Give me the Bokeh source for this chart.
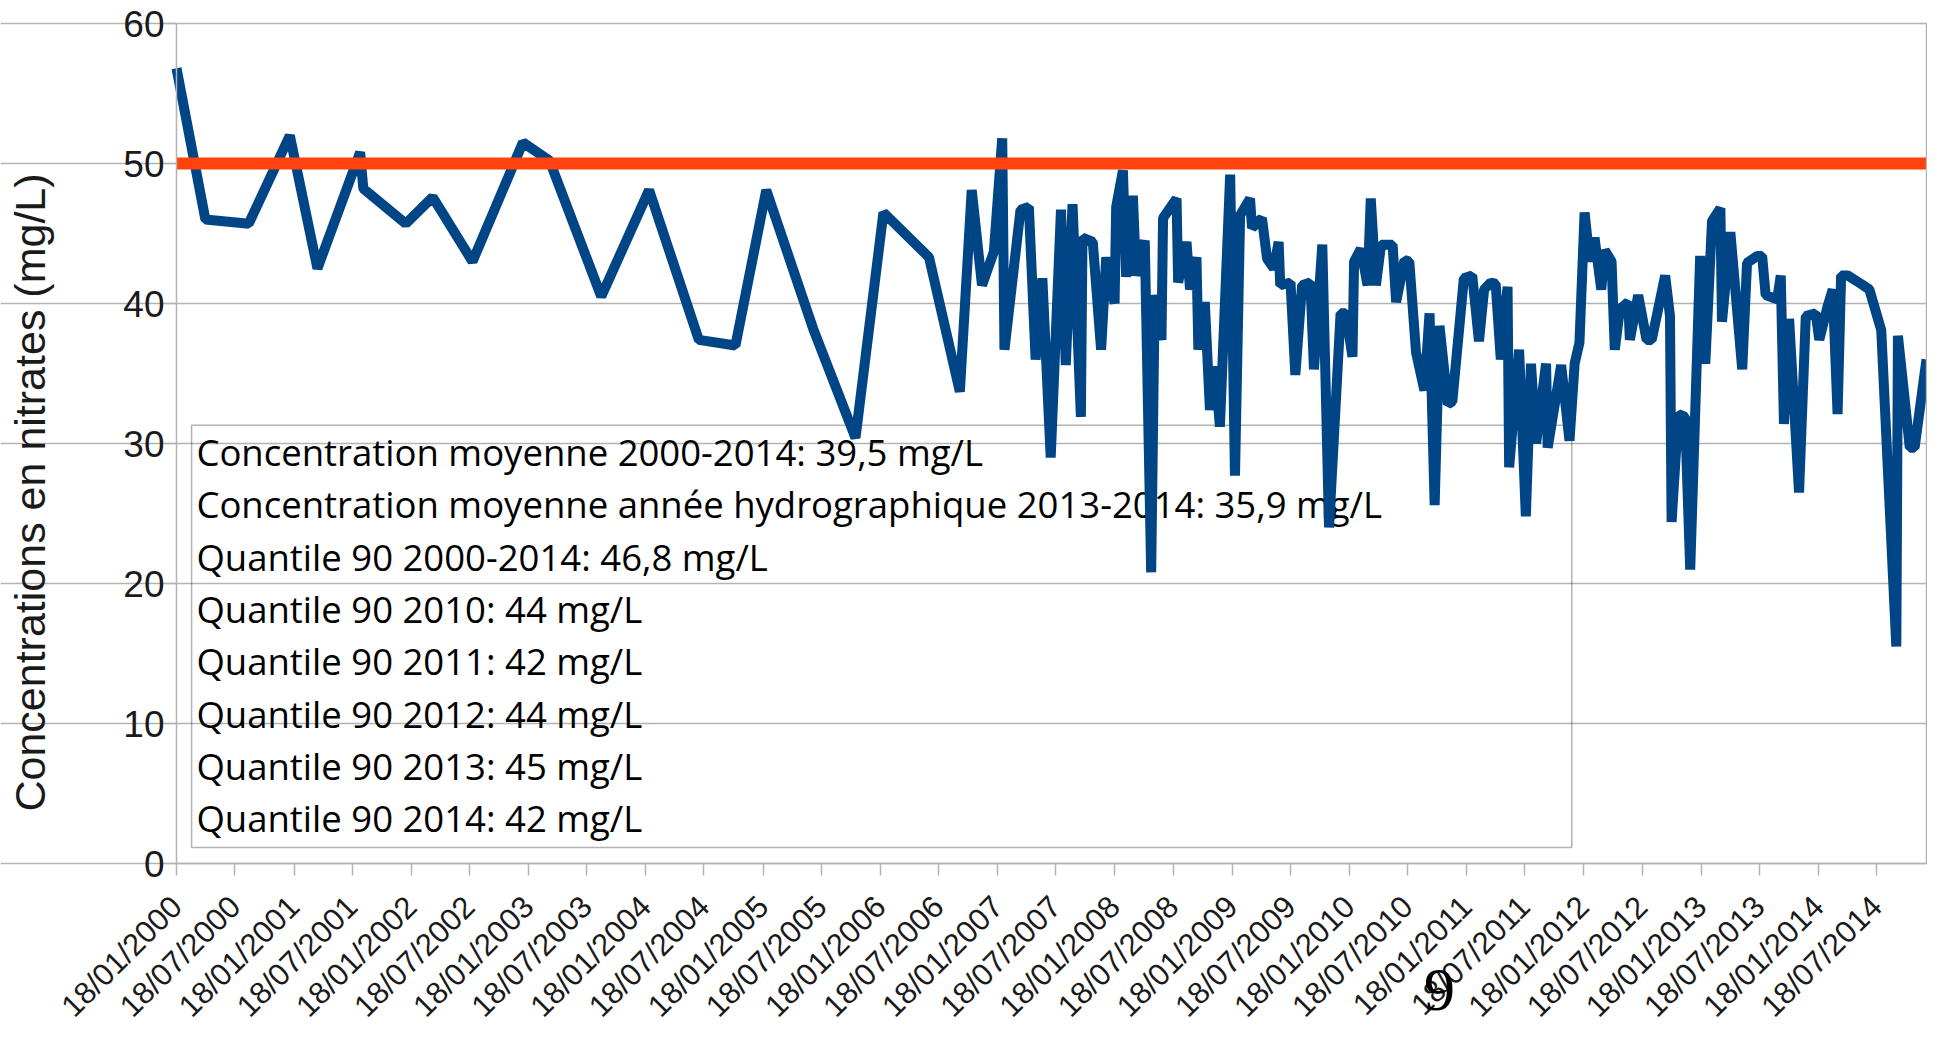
import pandas as pd
from bokeh.plotting import figure
from bokeh.models import (FixedTicker, DatetimeTickFormatter, LinearAxis, Range1d,
                          BoxAnnotation, Label, ColumnDataSource)
from bokeh.core.properties import value
from bokeh.embed import file_html
from bokeh.resources import INLINE

# ---------------- data ----------------
sample_dates = [
    "2000-01-18", "2000-04-17", "2000-08-30", "2001-01-05", "2001-04-01", "2001-08-12",
    "2001-08-22", "2002-01-01", "2002-03-26", "2002-07-28", "2003-01-01", "2003-03-25",
    "2003-09-02", "2004-01-29", "2004-07-02", "2004-10-24", "2005-01-28", "2005-06-23",
    "2005-11-02", "2006-01-28", "2006-06-19", "2006-09-23", "2006-10-30",
    "2006-12-01", "2007-01-07", "2007-02-02", "2007-02-09", "2007-03-31", "2007-04-26",
    "2007-05-17", "2007-06-07", "2007-07-03", "2007-08-04", "2007-08-19", "2007-09-09",
    "2007-10-05", "2007-10-10", "2007-11-11", "2007-12-07", "2007-12-23", "2008-01-18",
    "2008-01-23", "2008-02-13", "2008-02-23", "2008-03-15", "2008-03-25", "2008-04-21",
    "2008-05-11", "2008-05-22", "2008-06-12", "2008-06-17", "2008-07-29", "2008-08-03",
    "2008-08-29", "2008-09-09", "2008-09-29", "2008-10-05", "2008-10-25", "2008-11-10",
    "2008-11-26", "2008-12-11", "2009-01-12", "2009-01-27", "2009-02-12", "2009-03-15",
    "2009-03-21", "2009-04-21", "2009-05-07", "2009-05-28", "2009-06-12", "2009-06-17",
    "2009-07-19", "2009-08-03", "2009-08-24", "2009-09-19", "2009-09-30", "2009-10-26",
    "2009-11-16", "2009-12-22", "2010-01-07", "2010-01-28", "2010-02-02", "2010-02-23",
    "2010-03-16", "2010-03-26", "2010-04-11", "2010-04-27", "2010-06-02", "2010-06-13",
    "2010-07-09", "2010-07-24", "2010-08-14", "2010-09-09", "2010-09-25", "2010-10-11",
    "2010-10-26", "2010-11-21",
    "2010-12-05", "2011-01-10", "2011-02-05", "2011-02-26", "2011-03-14", "2011-04-04",
    "2011-04-19", "2011-05-05", "2011-05-26", "2011-05-31", "2011-07-01", "2011-07-22",
    "2011-08-07", "2011-08-23", "2011-09-23", "2011-09-28", "2011-11-09", "2011-12-05",
    "2011-12-21", "2012-01-05", "2012-01-21", "2012-02-06", "2012-02-21", "2012-03-13",
    "2012-03-24", "2012-04-14", "2012-04-24", "2012-05-10", "2012-06-05", "2012-06-10",
    "2012-07-06", "2012-08-01", "2012-08-17", "2012-09-28", "2012-10-13", "2012-10-18",
    "2012-11-08", "2012-11-29", "2012-12-15", "2013-01-15", "2013-01-31", "2013-02-21",
    "2013-03-19", "2013-03-24", "2013-04-19", "2013-05-26", "2013-06-10", "2013-07-12",
    "2013-07-27", "2013-08-07", "2013-09-12", "2013-09-23", "2013-10-03", "2013-10-19",
    "2013-11-19", "2013-12-10", "2014-01-10", "2014-01-21", "2014-02-16", "2014-03-04",
    "2014-03-19", "2014-03-30", "2014-04-20", "2014-05-31", "2014-06-26", "2014-08-02",
    "2014-09-18", "2014-09-23", "2014-10-30", "2014-11-14", "2014-12-21",
]

nitrate_mg_l = [
    56.8, 46.0, 45.7, 52.0, 42.5, 50.8,
    48.2, 45.7, 47.6, 43.0, 51.5, 50.2,
    40.5, 48.1, 37.4, 37.0, 48.1, 38.2,
    30.4, 46.5, 43.3, 33.7, 48.1,
    41.3, 43.7, 51.8, 36.7, 46.7, 46.9,
    36.0, 41.8, 29.0, 46.7, 35.6, 47.1,
    31.9, 44.7, 44.4, 36.7, 43.3, 40.0,
    46.9, 49.5, 41.9, 47.7, 42.0, 44.5,
    20.8, 40.6, 37.4, 46.1, 47.5, 41.5,
    44.4, 41.0, 43.3, 36.7, 40.1, 32.4,
    35.5, 31.2, 49.2, 27.7, 46.3, 47.5,
    45.4, 46.1, 43.2, 42.5, 44.4, 41.3,
    41.5, 34.9, 41.3, 41.5, 35.3, 44.2,
    24.0, 39.3, 39.3, 36.2, 43.0, 43.9,
    41.3, 47.5, 41.3, 44.2, 44.2, 40.1,
    43.1, 43.0, 36.5, 33.8, 39.3, 25.6,
    38.4, 32.8,
    33.0, 41.8, 42.0, 37.3, 41.0, 41.5,
    41.4, 36.0, 41.2, 28.3, 36.7, 24.8,
    35.7, 30.0, 35.7, 29.7, 35.6, 30.2,
    35.7, 37.2, 46.5, 43.0, 44.7, 41.0,
    43.8, 43.0, 36.7, 39.6, 40.1, 37.4,
    40.6, 37.4, 37.4, 42.0, 39.1, 24.4,
    32.1, 31.9, 21.0, 43.4, 35.7, 45.9,
    46.8, 38.7, 45.1, 35.3, 42.9, 43.4,
    43.4, 40.6, 40.3, 42.0, 31.4, 38.9,
    26.5, 39.1, 39.3, 37.4, 39.8, 41.0,
    32.1, 42.0, 42.0, 41.4, 41.0, 38.1,
    15.5, 37.7, 29.7, 29.7, 36.0,
]

limit_mg_l = 50  # seuil réglementaire

tick_dates = [f"{y}-{m}-18" for y in range(2000, 2015) for m in ("01", "07")]
y_ticks = [0, 10, 20, 30, 40, 50, 60]

stats_lines = [
    "Concentration moyenne 2000-2014: 39,5 mg/L",
    "Concentration moyenne année hydrographique 2013-2014: 35,9 mg/L",
    "Quantile 90 2000-2014: 46,8 mg/L",
    "Quantile 90 2010: 44 mg/L",
    "Quantile 90 2011: 42 mg/L",
    "Quantile 90 2012: 44 mg/L",
    "Quantile 90 2013: 45 mg/L",
    "Quantile 90 2014: 42 mg/L",
]

# ---------------- layout ----------------
W, H = 1927, 1024
AX_LEFT_PX, AX_RIGHT_PX = 176, 1926      # where the first / last date sit
Y60_PX, Y0_PX = 23, 863                  # where 60 and 0 sit (from the top)


def ms(d):
    return pd.Timestamp(d).value / 1e6


dates = pd.to_datetime(sample_dates)
x_start, x_end = ms(sample_dates[0]), ms(sample_dates[-1])
px_per_ms = (AX_RIGHT_PX - AX_LEFT_PX) / (x_end - x_start)
px_per_unit = (Y0_PX - Y60_PX) / 60.0

# the frame covers the whole canvas; axes are pinned inside it
x_range = Range1d(x_start - AX_LEFT_PX / px_per_ms, x_end + (W - AX_RIGHT_PX) / px_per_ms)
y_range = Range1d(-(H - Y0_PX) / px_per_unit, 60 + Y60_PX / px_per_unit)

p = figure(width=W, height=H, x_axis_type="datetime", x_range=x_range, y_range=y_range,
           output_backend="svg", toolbar_location=None,
           min_border_left=0, min_border_right=0, min_border_top=0, min_border_bottom=0)
p.background_fill_color = "white"
p.border_fill_color = "white"
p.outline_line_color = None

grey = "#b3b3b3"

# date axis pinned at y = 0
p.xaxis.fixed_location = 0
p.xaxis.bounds = (x_start, x_end)
p.xaxis.ticker = FixedTicker(ticks=[ms(d) for d in tick_dates])
fmt = "%d/%m/%Y"
p.xaxis.formatter = DatetimeTickFormatter(milliseconds=fmt, seconds=fmt, minsec=fmt, minutes=fmt,
                                          hourmin=fmt, hours=fmt, days=fmt, months=fmt, years=fmt)
p.xaxis.major_label_orientation = 0.785398
p.xaxis.major_label_text_font_size = "31px"
p.xaxis.major_label_standoff = 26

# value axis pinned at the first date (its own line hidden, drawn by border_line)
p.yaxis.fixed_location = x_start
p.yaxis.bounds = (-7, 60)
p.yaxis.ticker = FixedTicker(ticks=y_ticks)

for ax in (p.xaxis, p.yaxis):
    ax.axis_line_color = grey
    ax.axis_line_width = 1.5
    ax.major_tick_line_color = grey
    ax.major_tick_line_width = 1.5
    ax.major_tick_out = 12
    ax.major_tick_in = 0
    ax.minor_tick_line_color = None
    ax.major_label_text_font = "Liberation Sans"
    ax.major_label_text_color = "#1a1a1a"
p.yaxis.axis_line_color = None

p.yaxis.major_label_text_font_size = "37px"
p.yaxis.major_label_standoff = 0
p.yaxis.axis_label = "Concentrations en nitrates (mg/L)"
p.yaxis.axis_label_text_font = "Liberation Sans"
p.yaxis.axis_label_text_font_size = "43px"
p.yaxis.axis_label_text_font_style = "normal"
p.yaxis.axis_label_text_color = "#1a1a1a"
p.yaxis.axis_label_standoff = 66


def border_line(x_at):
    return LinearAxis(fixed_location=x_at, bounds=(0, 60), ticker=FixedTicker(ticks=[]),
                      axis_line_color=grey, axis_line_width=1.5,
                      major_tick_line_color=None, minor_tick_line_color=None,
                      major_label_text_font_size="0px")


p.add_layout(border_line(x_start), "left")
p.add_layout(border_line(x_end), "right")

p.xgrid.grid_line_color = None
p.ygrid.grid_line_color = grey
p.ygrid.grid_line_width = 1.5
p.ygrid.bounds = (x_start, x_end)

# text box (drawn below the series)
box = BoxAnnotation(left=ms("2000-03-05"), right=ms("2011-12-12"), top=31.3, bottom=1.14,
                    fill_alpha=0, line_color="black", line_width=1.5, level="underlay")
p.add_layout(box)

first_line_y = 29.4
line_step = 3.74
txt = ColumnDataSource(dict(
    x=[ms("2000-03-20")] * len(stats_lines),
    y=[first_line_y - i * line_step for i in range(len(stats_lines))],
    t=stats_lines))
p.text(x="x", y="y", text="t", source=txt, text_font=value("Open Sans"),
       text_font_size="36.5px", text_baseline="middle", text_align="left", text_color="black")

# series
p.line(dates, nitrate_mg_l, line_color="#004586", line_width=10, line_join="bevel")

# limit 50 mg/L (constant series over the same dates)
p.line(dates, [limit_mg_l] * len(sample_dates), line_color="#ff420e", line_width=12)

# page number
p.add_layout(Label(x=ms("2010-10-26"), y=-9.0, text="9", text_font="Liberation Serif",
                   text_font_size="62px", text_align="center", text_baseline="middle",
                   text_color="black"))

open("out.html", "w").write(file_html(p, INLINE))
